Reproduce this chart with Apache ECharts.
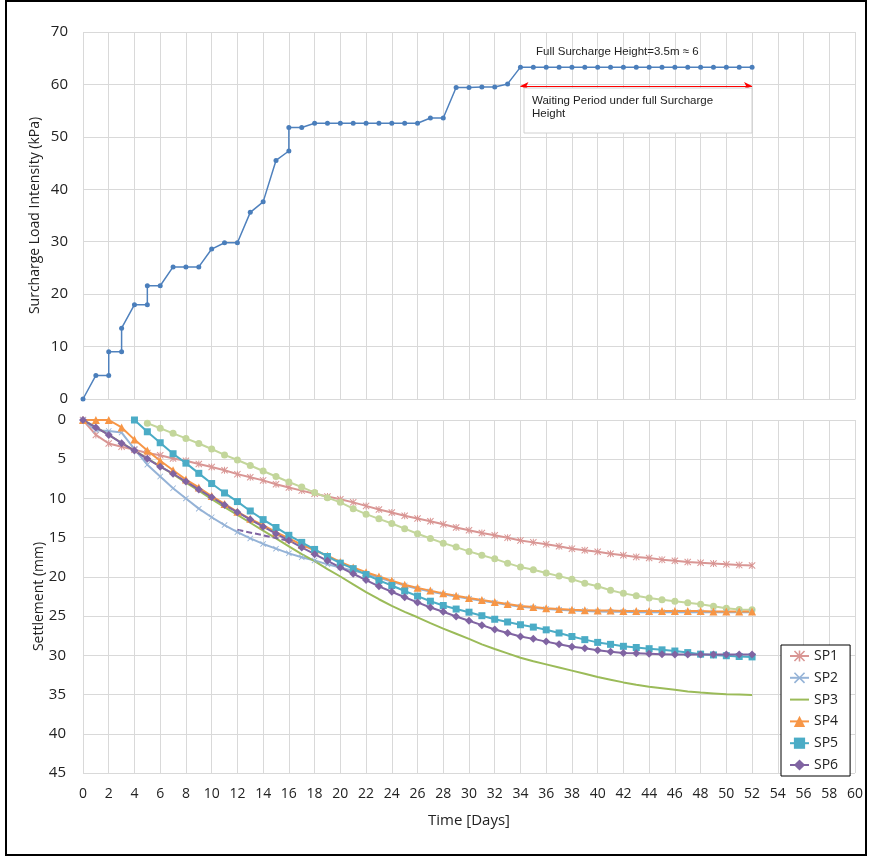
<!DOCTYPE html>
<html>
<head>
<meta charset="utf-8">
<script src="https://cdn.jsdelivr.net/npm/echarts@6/dist/echarts.min.js"></script>
<style>
html,body{margin:0;padding:0;background:#fff;}
#chart{width:869px;height:857px;}
</style>
</head>
<body>
<div id="chart"></div>
<script>
// ---- Top chart: surcharge load ----
const topDays = [0,1,2,2,3,3,4,5,5,6, 7,8,9,10,11,12,13,14,15,16, 16,17,18,19,20,21,22,23,24,25,26, 27,28,29,30,31,32,33, 34,35,36,37,38,39,40,41,42,43,44,45,46,47,48,49,50,51,52];
const topLoad = [0,4.5,4.5,9,9,13.5,18,18,21.6,21.6, 25.2,25.2,25.2,28.6,29.8,29.8,35.6,37.6,45.5,47.3, 51.8,51.8,52.6,52.6,52.6,52.6,52.6,52.6,52.6,52.6,52.6, 53.6,53.6,59.4,59.4,59.5,59.5,60.1, 63.3,63.3,63.3,63.3,63.3,63.3,63.3,63.3,63.3,63.3,63.3,63.3,63.3,63.3,63.3,63.3,63.3,63.3,63.3];

// ---- Bottom chart: settlement (mm) per day ----
const days = [0,1,2,3,4,5,6,7,8,9,10,11,12,13,14,15,16,17,18,19,20,21,22,23,24,25,26,27,28,29,30,31,32,33,34,35,36,37,38,39,40,41,42,43,44,45,46,47,48,49,50,51,52];
const sp1 = [0,1.9,3.0,3.4,3.8,4.2,4.5,4.9,5.2,5.6, 6.0,6.4,6.9,7.3,7.7,8.2,8.6,9.0,9.4,9.75, 10.1,10.5,10.95,11.4,11.8,12.2,12.55,12.9,13.3,13.7, 14.05,14.4,14.7,15.0,15.35,15.6,15.85,16.1,16.4,16.6, 16.8,17.05,17.25,17.45,17.6,17.8,17.95,18.1,18.2,18.3, 18.4,18.5,18.55];
const sp2 = [0,1.3,1.4,1.6,3.7,5.7,7.2,8.7,10.0,11.3, 12.4,13.4,14.3,15.1,15.8,16.4,17.0,17.5,17.9,18.4, 18.8,19.2,19.6,20.1,20.6,21.1,21.5,21.85,22.2,22.5, 22.8,23.05,23.3,23.55,23.8,23.95,24.1,24.2,24.3,24.35, 24.4,24.45,24.45,24.5,24.5,24.5,24.5,24.5,24.5,24.5, 24.5,24.5,24.5];
const sp3 = [0,0.9,1.9,2.9,3.9,4.9,5.9,6.9,8.0,9.0, 10.1,11.1,12.1,13.1,14.1,15.1,16.1,17.1,18.0,19.0, 19.95,20.95,21.95,22.85,23.7,24.45,25.15,25.9,26.6,27.25, 27.9,28.6,29.2,29.75,30.3,30.75,31.15,31.55,31.95,32.35, 32.75,33.1,33.45,33.75,34.0,34.2,34.4,34.6,34.75,34.85, 34.95,35.0,35.05];
const sp4 = [0,0,0,0.95,2.5,3.9,5.2,6.4,7.6,8.6, 9.7,10.7,11.7,12.6,13.4,14.3,15.1,15.9,16.6,17.3, 18.1,18.8,19.4,19.95,20.5,21.0,21.4,21.75,22.1,22.4, 22.7,22.95,23.2,23.45,23.7,23.85,24.0,24.1,24.2,24.25, 24.3,24.3,24.35,24.35,24.35,24.35,24.35,24.35,24.35,24.4, 24.4,24.4,24.4];
const sp5 = [null,null,null,null,0,1.5,2.9,4.3,5.5,6.8, 8.1,9.3,10.4,11.6,12.7,13.7,14.7,15.6,16.5,17.4, 18.25,18.95,19.7,20.45,21.1,21.8,22.45,23.1,23.65,24.1, 24.5,24.95,25.4,25.75,26.1,26.4,26.75,27.15,27.6,28.0, 28.35,28.6,28.85,29.0,29.15,29.3,29.45,29.65,29.85,29.95, 30.05,30.15,30.2];
const sp6 = [0,0.95,1.9,2.95,3.9,4.95,5.95,6.85,7.85,8.85, 9.85,10.85,11.75,12.7,13.6,14.5,15.35,16.25,17.1,17.95, 18.8,19.6,20.4,21.2,21.9,22.6,23.25,23.9,24.45,25.05, 25.6,26.15,26.7,27.15,27.6,27.9,28.25,28.6,28.9,29.1, 29.35,29.55,29.7,29.75,29.8,29.85,29.9,29.9,29.9,29.9, 29.9,29.9,29.9];
const spExtra = [null,null,null,null,null,0.4,1.05,1.7,2.35,3.0, 3.7,4.45,5.1,5.8,6.5,7.2,7.9,8.55,9.25,9.9, 10.5,11.3,12.0,12.6,13.2,13.85,14.5,15.1,15.7,16.2, 16.75,17.25,17.7,18.25,18.75,19.1,19.5,19.9,20.3,20.8, 21.2,21.7,22.1,22.4,22.7,22.9,23.1,23.3,23.5,23.75, 24.0,24.15,24.2];
const dashDays = [12,16];
const dashVals = [14.0,15.4];
const seriesNames = ['SP1','SP2','SP3','SP4','SP5','SP6'];

const arrowDays = [34,52];
const arrowLevel = 59.7;

const FONT = 'Open Sans';
const GRID_C = '#d9d9d9';

function pairs(xs, ys){ const out=[]; for(let i=0;i<xs.length;i++){ if(ys[i]!==null) out.push([xs[i],ys[i]]); } return out; }

const xMark = 'path://M1,0L5,4L9,0L10,1L6,5L10,9L9,10L5,6L1,10L0,9L4,5L0,1Z';
const starMark = 'path://M1,0L5,4L9,0L10,1L6,5L10,9L9,10L5,6L1,10L0,9L4,5L0,1Z M4.3,0L5.7,0L5.7,10L4.3,10Z';

function xAxisCfg(idx, showLabel){
  return {
    gridIndex: idx, type:'value', min:0, max:60, interval:2,
    axisLine:{show:true, lineStyle:{color:GRID_C, width:1}},
    axisTick:{show:false},
    axisLabel:{show:showLabel, fontFamily:FONT, fontSize:14, color:'#222', margin:14},
    splitLine:{show:true, lineStyle:{color:GRID_C, width:1}},
    name: showLabel ? 'Time [Days]' : '',
    nameLocation:'middle', nameGap:40, nameMoveOverlap:false,
    nameTextStyle:{fontFamily:FONT, fontSize:15, color:'#222'}
  };
}

function bottomSeries(name, data, color, symbol, size, markerColor){
  return {
    name, type:'line', xAxisIndex:1, yAxisIndex:1,
    data, symbol, symbolSize:size, showSymbol: size>0,
    lineStyle:{color, width:2}, itemStyle:{color: markerColor || color},
    animation:false, emphasis:{disabled:true}
  };
}

const chart = echarts.init(document.getElementById('chart'), null, {renderer:'canvas'});
chart.setOption({
  backgroundColor:'#fff',
  animation:false,
  grid:[
    {left:83, top:32, width:772, height:367},
    {left:83, top:420, width:772, height:353}
  ],
  xAxis:[ xAxisCfg(0,false), xAxisCfg(1,true) ],
  yAxis:[
    {gridIndex:0, type:'value', min:0, max:70, interval:10,
     axisLine:{show:false}, axisTick:{show:false},
     axisLabel:{fontFamily:FONT, fontSize:15, color:'#222', margin:15},
     splitLine:{lineStyle:{color:GRID_C}},
     name:'Surcharge Load Intensity (kPa)', nameLocation:'middle', nameGap:41, nameMoveOverlap:false,
     nameTextStyle:{fontFamily:FONT, fontSize:14, color:'#222'}},
    {gridIndex:1, type:'value', min:0, max:45, interval:5, inverse:true,
     axisLine:{show:false}, axisTick:{show:false},
     axisLabel:{fontFamily:FONT, fontSize:15, color:'#222', margin:17},
     splitLine:{lineStyle:{color:GRID_C}},
     name:'Settlement (mm)', nameLocation:'middle', nameGap:37, nameMoveOverlap:false,
     nameTextStyle:{fontFamily:FONT, fontSize:14, color:'#222'}}
  ],
  legend:{
    data: seriesNames, orient:'vertical', left:781, top:645,
    backgroundColor:'#fff', borderColor:'#000', borderWidth:1, borderRadius:0,
    padding:[4,12,4,8], itemWidth:19, itemHeight:14, itemGap:7.8,
    textStyle:{fontFamily:FONT, fontSize:14, color:'#222'}
  },
  series:[
    {
      name:'Load', type:'line', xAxisIndex:0, yAxisIndex:0,
      data: pairs(topDays, topLoad), symbol:'circle', symbolSize:5,
      lineStyle:{color:'#4f81bd', width:1.5}, itemStyle:{color:'#4a7ebb'},
      emphasis:{disabled:true},
      markLine:{
        silent:true, symbol:['arrow','arrow'], symbolSize:[6,8],
        label:{show:false},
        lineStyle:{color:'#ff0000', width:1, type:'solid'},
        data:[[{coord:[arrowDays[0],arrowLevel]},{coord:[arrowDays[1],arrowLevel]}]]
      }
    },
    bottomSeries('SP1', pairs(days, sp1), '#d99694', starMark, 7),
    bottomSeries('Extra', pairs(days, spExtra), '#c3d69b', 'circle', 7),
    bottomSeries('SP2', pairs(days, sp2), '#95b3d7', xMark, 6),
    bottomSeries('SP3', pairs(days, sp3), '#9bbb59', 'circle', 0, 'rgba(0,0,0,0)'),
    bottomSeries('SP4', pairs(days, sp4), '#f79646', 'triangle', 8),
    bottomSeries('SP5', pairs(days, sp5), '#4bacc6', 'rect', 7),
    bottomSeries('SP6', pairs(days, sp6), '#8064a2', 'diamond', 8),
    {
      name:'SP6 trend', type:'line', xAxisIndex:1, yAxisIndex:1,
      data: pairs(dashDays, dashVals), symbol:'none',
      lineStyle:{color:'#8064a2', width:2, type:[6,3]}, emphasis:{disabled:true}
    }
  ],
  graphic:[
    {type:'text', left:536, top:46, style:{text:'Full Surcharge Height=3.5m \u2248 6', font:'11.5px "Liberation Sans"', fill:'#222'}, z:10},
    {type:'rect', shape:{x:524, y:88, width:228, height:45}, style:{fill:'#fff', stroke:'#d0d0d0', lineWidth:1}, z:9},
    {type:'text', left:532, top:94, style:{text:'Waiting Period under full Surcharge\nHeight', font:'11.5px "Liberation Sans"', fill:'#222', lineHeight:13}, z:10},
    {type:'rect', shape:{x:6, y:1, width:860, height:854}, style:{fill:'none', stroke:'#000', lineWidth:2}, z:20}
  ]
});
</script>
</body>
</html>
